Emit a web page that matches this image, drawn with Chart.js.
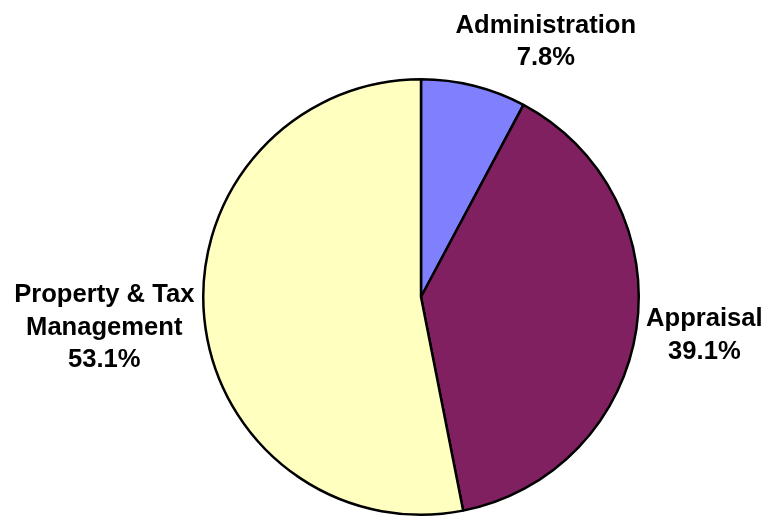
<!DOCTYPE html>
<html>
<head>
<meta charset="utf-8">
<script src="https://cdn.jsdelivr.net/npm/chart.js@4.4.0/dist/chart.umd.min.js"></script>
<style>
  html, body { margin: 0; padding: 0; background: #fff; }
  #wrap { width: 765px; height: 517px; }
</style>
</head>
<body>
<div id="wrap"><canvas id="pie"></canvas></div>
<script>
// slice data, clockwise from 12 o'clock
const categories = ["Administration", "Appraisal", "Property & Tax\nManagement"];
const shares = [7.8, 39.1, 53.1];
const sliceColors = ["#8080FF", "#802060", "#FFFFC0"];

// where each label sits relative to its slice's outer mid point
const labelOffsets = [[72, -60], [68, -10], [-100, -23]];

let labelPlugin = {
  id: "sliceLabels",
  afterDatasetsDraw(chart) {
    const ctx = chart.ctx;
    const arcs = chart.getDatasetMeta(0).data;
    ctx.save();
    ctx.font = "bold 25.6px 'Liberation Sans', Arial, sans-serif";
    ctx.fillStyle = "#000";
    ctx.textAlign = "center";
    ctx.textBaseline = "middle";
    arcs.forEach((arc, i) => {
      const mid = (arc.startAngle + arc.endAngle) / 2;
      const x = arc.x + Math.cos(mid) * arc.outerRadius + labelOffsets[i][0];
      let y = arc.y + Math.sin(mid) * arc.outerRadius + labelOffsets[i][1];
      const lines = categories[i].split("\n").concat([shares[i].toFixed(1) + "%"]);
      lines.forEach((line, k) => {
        ctx.fillText(line, x, y + k * 32.5);
      });
    });
    ctx.restore();
  }
};

new Chart(document.getElementById("pie").getContext("2d"), {
  type: "pie",
  data: {
    labels: categories,
    datasets: [{
      data: shares,
      backgroundColor: sliceColors,
      borderColor: "#000",
      borderWidth: 2.5
    }]
  },
  options: {
    responsive: true,
    maintainAspectRatio: false,
    animation: false,
    layout: { padding: { top: 78, bottom: 1, left: 202, right: 125 } },
    plugins: {
      legend: { display: false },
      tooltip: { enabled: false }
    }
  },
  plugins: [labelPlugin]
});
</script>
</body>
</html>
